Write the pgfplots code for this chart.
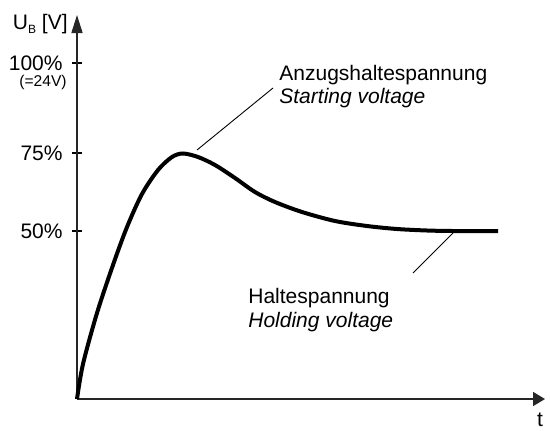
\documentclass[border=0pt]{standalone}
\usepackage{pgfplots}
\pgfplotsset{compat=1.18}
\usepackage{fontspec}
\setmainfont{Liberation Sans}
\usetikzlibrary{arrows.meta}
\newcommand{\lbl}{\fontsize{10.5}{12.6}\selectfont}
\begin{document}
\begin{tikzpicture}
\useasboundingbox (-38.5pt,-15.5pt) rectangle (236.5pt,199.5pt);
\begin{axis}[
  at={(0pt,0pt)}, anchor=south west,
  axis lines=left,
  x=0.5pt, y=0.5pt,
  xmin=0, xmax=468, ymin=0, ymax=384,
  xtick=\empty,
  ytick={168,246,336},
  yticklabels={50\%,75\%,100\%},
  tick align=center,
  major tick length=5pt,
  tick style={line width=0.7pt, black},
  axis line style={line width=0.8pt, black!85},
  x axis line style={-{Triangle[length=6pt,width=7pt]}},
  y axis line style={-{Triangle[length=9pt,width=5.5pt]}},
  yticklabel style={font=\lbl, anchor=east, inner sep=0pt, xshift=-4.5pt},
  clip=false,
]
% voltage curve, values in px from the origin
\addplot[line width=2pt, smooth, black] coordinates {
  (0,0) (6,35) (20,86) (36,134) (50,172) (65,205) (81,229) (95,242)
  (106,245.5) (121,242) (138,234) (158,221) (178,207) (198,197)
  (225,187) (258,178) (290,173) (320,170) (350,168.5) (376,168) (421,168)
};
\node[anchor=east, inner sep=0pt, font=\lbl] at (axis cs:-9,375) {U\raisebox{-0.35ex}{\fontsize{6}{7}\selectfont B} [V]};
\node[font=\fontsize{7.8}{9}\selectfont] at (axis cs:-34,317) {(=24V)};
\node[font=\lbl] at (axis cs:463,-21) {t};
% annotations
\draw[line width=0.45pt] (axis cs:120,249) -- (axis cs:196,311);
\draw[line width=0.45pt] (axis cs:376,166) -- (axis cs:336,126);
\node[anchor=west, inner sep=0pt, font=\lbl] at (axis cs:202,324) {Anzugshaltespannung};
\node[anchor=west, inner sep=0pt, font=\lbl\itshape] at (axis cs:202,301) {Starting voltage};
\node[anchor=west, inner sep=0pt, font=\lbl] at (axis cs:171,101) {Haltespannung};
\node[anchor=west, inner sep=0pt, font=\lbl\itshape] at (axis cs:171,77) {Holding voltage};
\end{axis}
\end{tikzpicture}
\end{document}
